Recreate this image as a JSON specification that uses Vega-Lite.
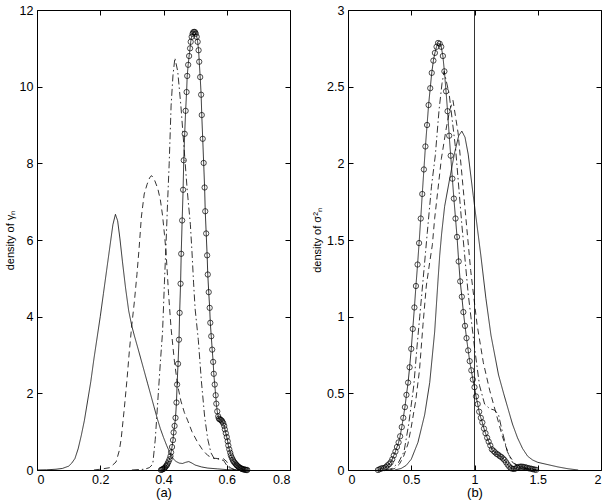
{
  "$schema": "https://vega.github.io/schema/vega-lite/v6.json",
  "background": "white",
  "padding": {"left": 3, "top": 3, "right": 5, "bottom": 3},
  "spacing": 20,
  "config": {
    "view": {"stroke": "black", "strokeWidth": 1},
    "font": "Liberation Sans",
    "axis": {"grid": false, "domain": false, "offset": -5, "tickColor": "black", "tickSize": 5, "tickWidth": 1, "labelColor": "black", "labelFontSize": 12.5, "labelPadding": 3, "titleColor": "black", "titleFontWeight": "normal", "labelFont": "Liberation Sans", "titleFont": "Liberation Sans", "format": "~g"}
  },
  "datasets": {
    "a": [
      {"x":0,"y":0,"s":"s1"},{"x":0.03,"y":0.005,"s":"s1"},{"x":0.06,"y":0.02,"s":"s1"},{"x":0.08,"y":0.04,"s":"s1"},{"x":0.1,"y":0.1,"s":"s1"},{"x":0.11,"y":0.18,"s":"s1"},{"x":0.12,"y":0.3,"s":"s1"},{"x":0.13,"y":0.55,"s":"s1"},{"x":0.14,"y":0.9,"s":"s1"},{"x":0.15,"y":1.3,"s":"s1"},{"x":0.16,"y":1.8,"s":"s1"},{"x":0.17,"y":2.3,"s":"s1"},{"x":0.18,"y":2.9,"s":"s1"},{"x":0.19,"y":3.45,"s":"s1"},{"x":0.2,"y":4.0,"s":"s1"},{"x":0.21,"y":4.6,"s":"s1"},{"x":0.22,"y":5.2,"s":"s1"},{"x":0.23,"y":5.8,"s":"s1"},{"x":0.24,"y":6.4,"s":"s1"},{"x":0.248,"y":6.67,"s":"s1"},{"x":0.255,"y":6.5,"s":"s1"},{"x":0.262,"y":6.05,"s":"s1"},{"x":0.27,"y":5.45,"s":"s1"},{"x":0.28,"y":4.75,"s":"s1"},{"x":0.29,"y":4.15,"s":"s1"},{"x":0.3,"y":3.75,"s":"s1"},{"x":0.308,"y":3.5,"s":"s1"},{"x":0.32,"y":3.15,"s":"s1"},{"x":0.33,"y":2.85,"s":"s1"},{"x":0.34,"y":2.55,"s":"s1"},{"x":0.35,"y":2.25,"s":"s1"},{"x":0.36,"y":1.95,"s":"s1"},{"x":0.37,"y":1.65,"s":"s1"},{"x":0.38,"y":1.35,"s":"s1"},{"x":0.39,"y":1.08,"s":"s1"},{"x":0.4,"y":0.85,"s":"s1"},{"x":0.41,"y":0.64,"s":"s1"},{"x":0.42,"y":0.45,"s":"s1"},{"x":0.43,"y":0.3,"s":"s1"},{"x":0.44,"y":0.22,"s":"s1"},{"x":0.45,"y":0.18,"s":"s1"},{"x":0.46,"y":0.17,"s":"s1"},{"x":0.47,"y":0.2,"s":"s1"},{"x":0.48,"y":0.22,"s":"s1"},{"x":0.49,"y":0.18,"s":"s1"},{"x":0.5,"y":0.13,"s":"s1"},{"x":0.52,"y":0.08,"s":"s1"},{"x":0.54,"y":0.05,"s":"s1"},{"x":0.57,"y":0.03,"s":"s1"},{"x":0.6,"y":0.01,"s":"s1"},{"x":0.65,"y":0,"s":"s1"},
      {"x":0.18,"y":0,"s":"s2"},{"x":0.2,"y":0.02,"s":"s2"},{"x":0.23,"y":0.06,"s":"s2"},{"x":0.25,"y":0.21,"s":"s2"},{"x":0.26,"y":0.5,"s":"s2"},{"x":0.266,"y":0.8,"s":"s2"},{"x":0.276,"y":1.6,"s":"s2"},{"x":0.285,"y":2.4,"s":"s2"},{"x":0.292,"y":3.1,"s":"s2"},{"x":0.3,"y":3.8,"s":"s2"},{"x":0.308,"y":4.4,"s":"s2"},{"x":0.316,"y":5.1,"s":"s2"},{"x":0.323,"y":5.8,"s":"s2"},{"x":0.33,"y":6.6,"s":"s2"},{"x":0.339,"y":7.2,"s":"s2"},{"x":0.348,"y":7.45,"s":"s2"},{"x":0.356,"y":7.62,"s":"s2"},{"x":0.362,"y":7.68,"s":"s2"},{"x":0.37,"y":7.6,"s":"s2"},{"x":0.382,"y":7.34,"s":"s2"},{"x":0.39,"y":7.05,"s":"s2"},{"x":0.397,"y":6.64,"s":"s2"},{"x":0.403,"y":6.15,"s":"s2"},{"x":0.408,"y":5.69,"s":"s2"},{"x":0.416,"y":4.6,"s":"s2"},{"x":0.424,"y":3.69,"s":"s2"},{"x":0.435,"y":2.8,"s":"s2"},{"x":0.445,"y":2.2,"s":"s2"},{"x":0.455,"y":1.8,"s":"s2"},{"x":0.466,"y":1.5,"s":"s2"},{"x":0.476,"y":1.3,"s":"s2"},{"x":0.49,"y":1.0,"s":"s2"},{"x":0.508,"y":0.72,"s":"s2"},{"x":0.524,"y":0.52,"s":"s2"},{"x":0.54,"y":0.38,"s":"s2"},{"x":0.555,"y":0.31,"s":"s2"},{"x":0.571,"y":0.3,"s":"s2"},{"x":0.59,"y":0.29,"s":"s2"},{"x":0.6,"y":0.22,"s":"s2"},{"x":0.61,"y":0.06,"s":"s2"},{"x":0.625,"y":0.01,"s":"s2"},{"x":0.64,"y":0,"s":"s2"},
      {"x":0.3,"y":0,"s":"s3"},{"x":0.34,"y":0.02,"s":"s3"},{"x":0.355,"y":0.06,"s":"s3"},{"x":0.366,"y":0.15,"s":"s3"},{"x":0.374,"y":0.8,"s":"s3"},{"x":0.382,"y":1.8,"s":"s3"},{"x":0.39,"y":2.8,"s":"s3"},{"x":0.397,"y":3.6,"s":"s3"},{"x":0.403,"y":4.9,"s":"s3"},{"x":0.408,"y":5.9,"s":"s3"},{"x":0.413,"y":7.0,"s":"s3"},{"x":0.418,"y":8.0,"s":"s3"},{"x":0.424,"y":9.5,"s":"s3"},{"x":0.43,"y":10.3,"s":"s3"},{"x":0.436,"y":10.75,"s":"s3"},{"x":0.445,"y":10.4,"s":"s3"},{"x":0.455,"y":9.5,"s":"s3"},{"x":0.465,"y":8.4,"s":"s3"},{"x":0.475,"y":7.3,"s":"s3"},{"x":0.485,"y":6.4,"s":"s3"},{"x":0.49,"y":5.7,"s":"s3"},{"x":0.495,"y":4.9,"s":"s3"},{"x":0.5,"y":4.2,"s":"s3"},{"x":0.51,"y":3.4,"s":"s3"},{"x":0.52,"y":2.3,"s":"s3"},{"x":0.53,"y":1.4,"s":"s3"},{"x":0.54,"y":0.8,"s":"s3"},{"x":0.55,"y":0.45,"s":"s3"},{"x":0.56,"y":0.3,"s":"s3"},{"x":0.575,"y":0.28,"s":"s3"},{"x":0.59,"y":0.25,"s":"s3"},{"x":0.6,"y":0.12,"s":"s3"},{"x":0.61,"y":0.04,"s":"s3"},{"x":0.63,"y":0,"s":"s3"},
      {"x":0.392,"y":0.0,"s":"s4"},{"x":0.395,"y":0.01,"s":"s4"},{"x":0.397,"y":0.02,"s":"s4"},{"x":0.4,"y":0.03,"s":"s4"},{"x":0.403,"y":0.05,"s":"s4"},{"x":0.405,"y":0.07,"s":"s4"},{"x":0.408,"y":0.1,"s":"s4"},{"x":0.411,"y":0.13,"s":"s4"},{"x":0.413,"y":0.17,"s":"s4"},{"x":0.416,"y":0.22,"s":"s4"},{"x":0.419,"y":0.28,"s":"s4"},{"x":0.422,"y":0.36,"s":"s4"},{"x":0.424,"y":0.46,"s":"s4"},{"x":0.427,"y":0.6,"s":"s4"},{"x":0.43,"y":0.78,"s":"s4"},{"x":0.432,"y":0.98,"s":"s4"},{"x":0.435,"y":1.15,"s":"s4"},{"x":0.438,"y":1.36,"s":"s4"},{"x":0.441,"y":1.76,"s":"s4"},{"x":0.443,"y":2.23,"s":"s4"},{"x":0.446,"y":2.77,"s":"s4"},{"x":0.449,"y":3.4,"s":"s4"},{"x":0.451,"y":4.1,"s":"s4"},{"x":0.454,"y":4.86,"s":"s4"},{"x":0.456,"y":5.64,"s":"s4"},{"x":0.459,"y":6.51,"s":"s4"},{"x":0.462,"y":7.31,"s":"s4"},{"x":0.464,"y":8.08,"s":"s4"},{"x":0.467,"y":8.77,"s":"s4"},{"x":0.47,"y":9.37,"s":"s4"},{"x":0.473,"y":9.86,"s":"s4"},{"x":0.475,"y":10.28,"s":"s4"},{"x":0.478,"y":10.57,"s":"s4"},{"x":0.481,"y":10.8,"s":"s4"},{"x":0.484,"y":11.0,"s":"s4"},{"x":0.486,"y":11.17,"s":"s4"},{"x":0.489,"y":11.3,"s":"s4"},{"x":0.492,"y":11.38,"s":"s4"},{"x":0.494,"y":11.42,"s":"s4"},{"x":0.497,"y":11.43,"s":"s4"},{"x":0.5,"y":11.42,"s":"s4"},{"x":0.502,"y":11.38,"s":"s4"},{"x":0.505,"y":11.3,"s":"s4"},{"x":0.508,"y":11.17,"s":"s4"},{"x":0.511,"y":10.95,"s":"s4"},{"x":0.513,"y":10.65,"s":"s4"},{"x":0.516,"y":10.25,"s":"s4"},{"x":0.519,"y":9.79,"s":"s4"},{"x":0.521,"y":9.26,"s":"s4"},{"x":0.524,"y":8.64,"s":"s4"},{"x":0.527,"y":8.01,"s":"s4"},{"x":0.53,"y":7.37,"s":"s4"},{"x":0.532,"y":6.75,"s":"s4"},{"x":0.535,"y":6.17,"s":"s4"},{"x":0.538,"y":5.6,"s":"s4"},{"x":0.54,"y":5.1,"s":"s4"},{"x":0.543,"y":4.64,"s":"s4"},{"x":0.546,"y":4.23,"s":"s4"},{"x":0.548,"y":3.84,"s":"s4"},{"x":0.551,"y":3.49,"s":"s4"},{"x":0.554,"y":3.14,"s":"s4"},{"x":0.557,"y":2.82,"s":"s4"},{"x":0.559,"y":2.51,"s":"s4"},{"x":0.562,"y":2.23,"s":"s4"},{"x":0.565,"y":1.95,"s":"s4"},{"x":0.567,"y":1.73,"s":"s4"},{"x":0.57,"y":1.53,"s":"s4"},{"x":0.573,"y":1.4,"s":"s4"},{"x":0.575,"y":1.34,"s":"s4"},{"x":0.578,"y":1.32,"s":"s4"},{"x":0.581,"y":1.31,"s":"s4"},{"x":0.584,"y":1.29,"s":"s4"},{"x":0.586,"y":1.26,"s":"s4"},{"x":0.589,"y":1.22,"s":"s4"},{"x":0.592,"y":1.15,"s":"s4"},{"x":0.594,"y":1.06,"s":"s4"},{"x":0.597,"y":0.96,"s":"s4"},{"x":0.6,"y":0.86,"s":"s4"},{"x":0.603,"y":0.75,"s":"s4"},{"x":0.605,"y":0.64,"s":"s4"},{"x":0.608,"y":0.54,"s":"s4"},{"x":0.611,"y":0.45,"s":"s4"},{"x":0.613,"y":0.38,"s":"s4"},{"x":0.616,"y":0.32,"s":"s4"},{"x":0.619,"y":0.27,"s":"s4"},{"x":0.621,"y":0.23,"s":"s4"},{"x":0.624,"y":0.2,"s":"s4"},{"x":0.627,"y":0.17,"s":"s4"},{"x":0.63,"y":0.14,"s":"s4"},{"x":0.632,"y":0.12,"s":"s4"},{"x":0.635,"y":0.1,"s":"s4"},{"x":0.638,"y":0.08,"s":"s4"},{"x":0.64,"y":0.06,"s":"s4"},{"x":0.643,"y":0.05,"s":"s4"},{"x":0.646,"y":0.04,"s":"s4"},{"x":0.648,"y":0.03,"s":"s4"},{"x":0.651,"y":0.02,"s":"s4"},{"x":0.654,"y":0.015,"s":"s4"},{"x":0.657,"y":0.01,"s":"s4"},{"x":0.659,"y":0.005,"s":"s4"},{"x":0.662,"y":0.0,"s":"s4"},{"x":0.665,"y":0.0,"s":"s4"}
    ],
    "b": [
      {"x":0.37,"y":0,"s":"s1"},{"x":0.42,"y":0.01,"s":"s1"},{"x":0.46,"y":0.03,"s":"s1"},{"x":0.5,"y":0.07,"s":"s1"},{"x":0.553,"y":0.18,"s":"s1"},{"x":0.606,"y":0.36,"s":"s1"},{"x":0.646,"y":0.57,"s":"s1"},{"x":0.685,"y":0.9,"s":"s1"},{"x":0.711,"y":1.23,"s":"s1"},{"x":0.725,"y":1.4,"s":"s1"},{"x":0.74,"y":1.54,"s":"s1"},{"x":0.764,"y":1.72,"s":"s1"},{"x":0.804,"y":1.9,"s":"s1"},{"x":0.843,"y":2.07,"s":"s1"},{"x":0.875,"y":2.18,"s":"s1"},{"x":0.9,"y":2.21,"s":"s1"},{"x":0.925,"y":2.17,"s":"s1"},{"x":0.95,"y":2.06,"s":"s1"},{"x":0.99,"y":1.79,"s":"s1"},{"x":1.03,"y":1.53,"s":"s1"},{"x":1.05,"y":1.4,"s":"s1"},{"x":1.09,"y":1.12,"s":"s1"},{"x":1.13,"y":0.88,"s":"s1"},{"x":1.19,"y":0.62,"s":"s1"},{"x":1.23,"y":0.5,"s":"s1"},{"x":1.265,"y":0.4,"s":"s1"},{"x":1.3,"y":0.3,"s":"s1"},{"x":1.34,"y":0.21,"s":"s1"},{"x":1.38,"y":0.14,"s":"s1"},{"x":1.42,"y":0.09,"s":"s1"},{"x":1.46,"y":0.065,"s":"s1"},{"x":1.5,"y":0.05,"s":"s1"},{"x":1.58,"y":0.035,"s":"s1"},{"x":1.66,"y":0.02,"s":"s1"},{"x":1.74,"y":0.008,"s":"s1"},{"x":1.82,"y":0,"s":"s1"},
      {"x":0.33,"y":0,"s":"s2"},{"x":0.37,"y":0.01,"s":"s2"},{"x":0.408,"y":0.04,"s":"s2"},{"x":0.44,"y":0.09,"s":"s2"},{"x":0.474,"y":0.17,"s":"s2"},{"x":0.5,"y":0.28,"s":"s2"},{"x":0.535,"y":0.45,"s":"s2"},{"x":0.565,"y":0.65,"s":"s2"},{"x":0.593,"y":0.95,"s":"s2"},{"x":0.619,"y":1.2,"s":"s2"},{"x":0.645,"y":1.35,"s":"s2"},{"x":0.667,"y":1.47,"s":"s2"},{"x":0.685,"y":1.64,"s":"s2"},{"x":0.711,"y":1.83,"s":"s2"},{"x":0.738,"y":2.03,"s":"s2"},{"x":0.777,"y":2.23,"s":"s2"},{"x":0.805,"y":2.35,"s":"s2"},{"x":0.83,"y":2.41,"s":"s2"},{"x":0.87,"y":2.2,"s":"s2"},{"x":0.92,"y":1.75,"s":"s2"},{"x":0.97,"y":1.3,"s":"s2"},{"x":1.02,"y":0.95,"s":"s2"},{"x":1.07,"y":0.7,"s":"s2"},{"x":1.12,"y":0.52,"s":"s2"},{"x":1.17,"y":0.37,"s":"s2"},{"x":1.22,"y":0.22,"s":"s2"},{"x":1.27,"y":0.1,"s":"s2"},{"x":1.32,"y":0.04,"s":"s2"},{"x":1.4,"y":0.01,"s":"s2"},{"x":1.5,"y":0,"s":"s2"},
      {"x":0.3,"y":0,"s":"s3"},{"x":0.35,"y":0.01,"s":"s3"},{"x":0.4,"y":0.05,"s":"s3"},{"x":0.443,"y":0.12,"s":"s3"},{"x":0.48,"y":0.3,"s":"s3"},{"x":0.52,"y":0.55,"s":"s3"},{"x":0.545,"y":0.8,"s":"s3"},{"x":0.567,"y":1.0,"s":"s3"},{"x":0.6,"y":1.3,"s":"s3"},{"x":0.627,"y":1.55,"s":"s3"},{"x":0.66,"y":1.85,"s":"s3"},{"x":0.69,"y":2.05,"s":"s3"},{"x":0.72,"y":2.35,"s":"s3"},{"x":0.743,"y":2.52,"s":"s3"},{"x":0.76,"y":2.6,"s":"s3"},{"x":0.8,"y":2.45,"s":"s3"},{"x":0.85,"y":2.1,"s":"s3"},{"x":0.9,"y":1.6,"s":"s3"},{"x":0.95,"y":1.15,"s":"s3"},{"x":1.0,"y":0.8,"s":"s3"},{"x":1.04,"y":0.55,"s":"s3"},{"x":1.08,"y":0.43,"s":"s3"},{"x":1.12,"y":0.4,"s":"s3"},{"x":1.16,"y":0.39,"s":"s3"},{"x":1.19,"y":0.36,"s":"s3"},{"x":1.22,"y":0.25,"s":"s3"},{"x":1.26,"y":0.12,"s":"s3"},{"x":1.3,"y":0.05,"s":"s3"},{"x":1.35,"y":0.02,"s":"s3"},{"x":1.45,"y":0,"s":"s3"},
      {"x":0.237,"y":0.0,"s":"s4"},{"x":0.25,"y":0.005,"s":"s4"},{"x":0.262,"y":0.01,"s":"s4"},{"x":0.275,"y":0.012,"s":"s4"},{"x":0.287,"y":0.013,"s":"s4"},{"x":0.3,"y":0.02,"s":"s4"},{"x":0.312,"y":0.03,"s":"s4"},{"x":0.325,"y":0.038,"s":"s4"},{"x":0.337,"y":0.05,"s":"s4"},{"x":0.35,"y":0.07,"s":"s4"},{"x":0.362,"y":0.095,"s":"s4"},{"x":0.375,"y":0.12,"s":"s4"},{"x":0.387,"y":0.15,"s":"s4"},{"x":0.4,"y":0.18,"s":"s4"},{"x":0.412,"y":0.22,"s":"s4"},{"x":0.425,"y":0.28,"s":"s4"},{"x":0.437,"y":0.34,"s":"s4"},{"x":0.45,"y":0.41,"s":"s4"},{"x":0.462,"y":0.49,"s":"s4"},{"x":0.475,"y":0.57,"s":"s4"},{"x":0.487,"y":0.67,"s":"s4"},{"x":0.5,"y":0.79,"s":"s4"},{"x":0.512,"y":0.92,"s":"s4"},{"x":0.525,"y":1.06,"s":"s4"},{"x":0.537,"y":1.2,"s":"s4"},{"x":0.55,"y":1.34,"s":"s4"},{"x":0.562,"y":1.48,"s":"s4"},{"x":0.575,"y":1.64,"s":"s4"},{"x":0.587,"y":1.8,"s":"s4"},{"x":0.6,"y":1.96,"s":"s4"},{"x":0.612,"y":2.11,"s":"s4"},{"x":0.625,"y":2.25,"s":"s4"},{"x":0.637,"y":2.38,"s":"s4"},{"x":0.65,"y":2.49,"s":"s4"},{"x":0.662,"y":2.59,"s":"s4"},{"x":0.675,"y":2.67,"s":"s4"},{"x":0.687,"y":2.72,"s":"s4"},{"x":0.7,"y":2.76,"s":"s4"},{"x":0.712,"y":2.785,"s":"s4"},{"x":0.725,"y":2.78,"s":"s4"},{"x":0.737,"y":2.76,"s":"s4"},{"x":0.75,"y":2.7,"s":"s4"},{"x":0.762,"y":2.6,"s":"s4"},{"x":0.775,"y":2.47,"s":"s4"},{"x":0.787,"y":2.34,"s":"s4"},{"x":0.8,"y":2.18,"s":"s4"},{"x":0.812,"y":2.05,"s":"s4"},{"x":0.825,"y":1.9,"s":"s4"},{"x":0.837,"y":1.77,"s":"s4"},{"x":0.85,"y":1.64,"s":"s4"},{"x":0.862,"y":1.52,"s":"s4"},{"x":0.875,"y":1.36,"s":"s4"},{"x":0.887,"y":1.23,"s":"s4"},{"x":0.9,"y":1.13,"s":"s4"},{"x":0.912,"y":1.03,"s":"s4"},{"x":0.925,"y":0.94,"s":"s4"},{"x":0.937,"y":0.86,"s":"s4"},{"x":0.95,"y":0.78,"s":"s4"},{"x":0.962,"y":0.71,"s":"s4"},{"x":0.975,"y":0.65,"s":"s4"},{"x":0.987,"y":0.59,"s":"s4"},{"x":1.0,"y":0.54,"s":"s4"},{"x":1.012,"y":0.48,"s":"s4"},{"x":1.025,"y":0.43,"s":"s4"},{"x":1.037,"y":0.38,"s":"s4"},{"x":1.05,"y":0.34,"s":"s4"},{"x":1.062,"y":0.31,"s":"s4"},{"x":1.075,"y":0.27,"s":"s4"},{"x":1.087,"y":0.24,"s":"s4"},{"x":1.1,"y":0.21,"s":"s4"},{"x":1.112,"y":0.185,"s":"s4"},{"x":1.125,"y":0.16,"s":"s4"},{"x":1.137,"y":0.135,"s":"s4"},{"x":1.15,"y":0.125,"s":"s4"},{"x":1.162,"y":0.115,"s":"s4"},{"x":1.175,"y":0.105,"s":"s4"},{"x":1.187,"y":0.1,"s":"s4"},{"x":1.2,"y":0.09,"s":"s4"},{"x":1.212,"y":0.085,"s":"s4"},{"x":1.225,"y":0.075,"s":"s4"},{"x":1.237,"y":0.065,"s":"s4"},{"x":1.25,"y":0.05,"s":"s4"},{"x":1.262,"y":0.035,"s":"s4"},{"x":1.275,"y":0.022,"s":"s4"},{"x":1.287,"y":0.012,"s":"s4"},{"x":1.3,"y":0.008,"s":"s4"},{"x":1.312,"y":0.007,"s":"s4"},{"x":1.325,"y":0.01,"s":"s4"},{"x":1.337,"y":0.015,"s":"s4"},{"x":1.35,"y":0.02,"s":"s4"},{"x":1.362,"y":0.022,"s":"s4"},{"x":1.375,"y":0.022,"s":"s4"},{"x":1.387,"y":0.02,"s":"s4"},{"x":1.4,"y":0.018,"s":"s4"},{"x":1.412,"y":0.015,"s":"s4"},{"x":1.425,"y":0.012,"s":"s4"},{"x":1.437,"y":0.01,"s":"s4"},{"x":1.45,"y":0.008,"s":"s4"},{"x":1.462,"y":0.005,"s":"s4"},{"x":1.475,"y":0.003,"s":"s4"},{"x":1.487,"y":0.001,"s":"s4"}
    ],
    "vline": [{"xv": 1}]
  },
  "hconcat": [
    {
      "width": 253, "height": 460,
      "layer": [
        {"data": {"name": "a"}, "mark": {"type": "line", "stroke": "black", "strokeWidth": 0.8, "clip": true},
         "encoding": {
           "x": {"field": "x", "type": "quantitative", "scale": {"domain": [0, 0.8], "nice": false, "zero": false}, "axis": {"values": [0, 0.2, 0.4, 0.6, 0.8], "title": "(a)", "titleFontSize": 13, "titlePadding": 1}},
           "y": {"field": "y", "type": "quantitative", "scale": {"domain": [0, 12], "nice": false}, "axis": {"values": [0, 2, 4, 6, 8, 10, 12], "title": "density of γₙ", "titleFontSize": 11, "titlePadding": 4, "labelPadding": 4}},
           "strokeDash": {"field": "s", "type": "nominal", "scale": {"domain": ["s1", "s2", "s3", "s4"], "range": [[1, 0], [6, 4], [7, 3, 1.5, 3], [1, 0]]}, "legend": null},
           "detail": {"field": "s"}
         }},
        {"data": {"name": "a"}, "transform": [{"filter": "datum.s === 's4'"}], "mark": {"type": "point", "shape": "circle", "filled": false, "stroke": "black", "strokeWidth": 0.7, "size": 28, "opacity": 1},
         "encoding": {"x": {"field": "x", "type": "quantitative", "axis": null}, "y": {"field": "y", "type": "quantitative", "axis": null}}},
        {"data": {"name": "a"}, "mark": {"type": "point", "opacity": 0},
         "encoding": {"x": {"field": "x", "type": "quantitative", "axis": {"orient": "top", "labels": false, "title": null, "values": [0, 0.2, 0.4, 0.6, 0.8]}}, "y": {"field": "y", "type": "quantitative", "axis": {"orient": "right", "labels": false, "title": null, "values": [0, 2, 4, 6, 8, 10, 12]}}}}
      ],
      "resolve": {"axis": {"x": "independent", "y": "independent"}}
    },
    {
      "width": 253, "height": 460,
      "layer": [
        {"data": {"name": "b"}, "mark": {"type": "line", "stroke": "black", "strokeWidth": 0.8, "clip": true},
         "encoding": {
           "x": {"field": "x", "type": "quantitative", "scale": {"domain": [0, 2], "nice": false, "zero": false}, "axis": {"values": [0, 0.5, 1, 1.5, 2], "title": "(b)", "titleFontSize": 13, "titlePadding": 1}},
           "y": {"field": "y", "type": "quantitative", "scale": {"domain": [0, 3], "nice": false}, "axis": {"values": [0, 0.5, 1, 1.5, 2, 2.5, 3], "title": "density of σ²ₙ", "titleFontSize": 11, "titlePadding": 4, "labelPadding": 4}},
           "strokeDash": {"field": "s", "type": "nominal", "scale": {"domain": ["s1", "s2", "s3", "s4"], "range": [[1, 0], [6, 4], [7, 3, 1.5, 3], [1, 0]]}, "legend": null},
           "detail": {"field": "s"}
         }},
        {"data": {"name": "b"}, "transform": [{"filter": "datum.s === 's4'"}], "mark": {"type": "point", "shape": "circle", "filled": false, "stroke": "black", "strokeWidth": 0.7, "size": 28, "opacity": 1},
         "encoding": {"x": {"field": "x", "type": "quantitative", "axis": null}, "y": {"field": "y", "type": "quantitative", "axis": null}}},
        {"data": {"name": "vline"}, "mark": {"type": "rule", "stroke": "black", "strokeWidth": 0.8},
         "encoding": {"x": {"field": "xv", "type": "quantitative", "axis": null}}},
        {"data": {"name": "b"}, "mark": {"type": "point", "opacity": 0},
         "encoding": {"x": {"field": "x", "type": "quantitative", "axis": {"orient": "top", "labels": false, "title": null, "values": [0, 0.5, 1, 1.5, 2]}}, "y": {"field": "y", "type": "quantitative", "axis": {"orient": "right", "labels": false, "title": null, "values": [0, 0.5, 1, 1.5, 2, 2.5, 3]}}}}
      ],
      "resolve": {"axis": {"x": "independent", "y": "independent"}}
    }
  ]
}
